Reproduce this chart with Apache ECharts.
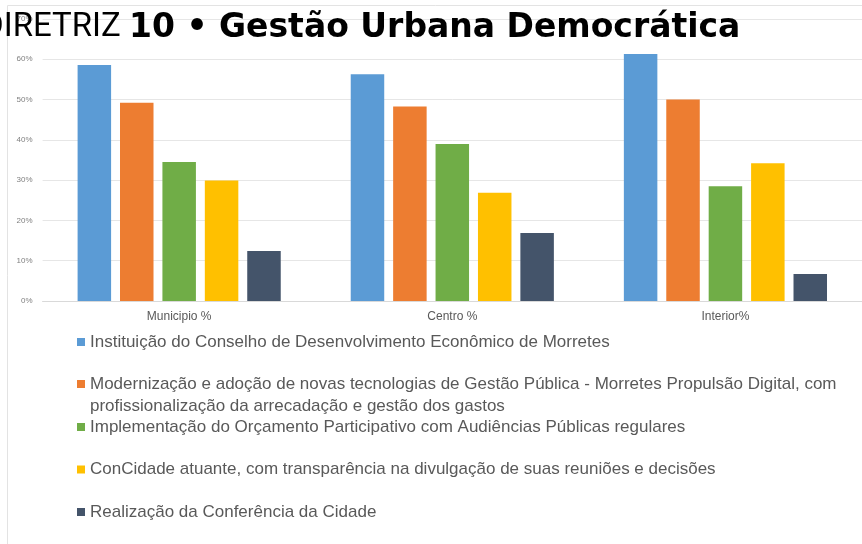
<!DOCTYPE html>
<html>
<head>
<meta charset="utf-8">
<script src="https://cdn.jsdelivr.net/npm/echarts@6/dist/echarts.min.js"></script>
<style>
  html, body { margin: 0; padding: 0; background: #fff; overflow: hidden; }
  #chart { width: 862px; height: 544px; }
</style>
</head>
<body>
<div id="chart"></div>
<script>
const categories = ['Municipio %', 'Centro %', 'Interior%'];
const seriesNames = [
  'Instituição do Conselho de Desenvolvimento Econômico de Morretes',
  'Modernização e adoção de novas tecnologias de Gestão Pública - Morretes Propulsão Digital, com profissionalização da arrecadação e gestão dos gastos',
  'Implementação do Orçamento Participativo com Audiências Públicas regulares',
  'ConCidade atuante, com transparência na divulgação de suas reuniões e decisões',
  'Realização da Conferência da Cidade'
];
const conselho = [58.6, 56.3, 61.3];
const modernizacao = [49.2, 48.3, 50.0];
const orcamento = [34.5, 39.0, 28.5];
const concidade = [29.9, 26.9, 34.2];
const conferencia = [12.4, 16.9, 6.7];
const colors = ['#5b9bd5', '#ed7d31', '#70ad47', '#ffc000', '#44546a'];

const values = [conselho, modernizacao, orcamento, concidade, conferencia];

const legendText = {
  fontFamily: 'Liberation Sans',
  fontSize: 17,
  lineHeight: 22,
  color: '#595959'
};

function legendBase(names, top) {
  return {
    data: names,
    orient: 'vertical',
    left: 77,
    top: top,
    padding: 0,
    itemGap: 20.5,
    itemWidth: 8,
    itemHeight: 8,
    icon: 'rect',
    selectedMode: false,
    textStyle: legendText
  };
}

const legendB = legendBase([seriesNames[1]], 351);
// keep the marker on the first line of the wrapped entry
legendB.formatter = function (name) {
  return '\u00a0\n' + name.replace('Digital, com ', 'Digital, com\n');
};

const chart = echarts.init(document.getElementById('chart'));
chart.setOption({
  color: colors,
  animation: false,
  title: {
    text: '{a|DIRETRIZ }{b|10 • Gestão Urbana Democrática}',
    left: -18,
    top: 8,
    padding: 0,
    textStyle: {
      rich: {
        a: { fontFamily: 'Roboto', fontWeight: 400, fontSize: 33, lineHeight: 40, color: '#000' },
        b: { fontFamily: 'DejaVu Sans', fontWeight: 'bold', fontSize: 33, lineHeight: 40, color: '#000' }
      }
    }
  },
  graphic: [{
    type: 'rect',
    shape: { x: 7.5, y: 5.5, width: 900, height: 600 },
    style: { fill: 'none', stroke: '#e3e3e3', lineWidth: 1 },
    z: -1
  }],
  legend: [
    legendBase([seriesNames[0]], 331),
    legendB,
    legendBase([seriesNames[2], seriesNames[3], seriesNames[4]], 416)
  ],
  grid: { left: 42.6, right: -6.9, top: 19, bottom: 243 },
  xAxis: {
    type: 'category',
    data: categories,
    axisTick: { show: false },
    axisLine: { lineStyle: { color: '#d9d9d9' } },
    axisLabel: { color: '#595959', fontSize: 12, margin: 10, fontFamily: 'Liberation Sans' }
  },
  yAxis: {
    type: 'value',
    min: 0,
    max: 70,
    interval: 10,
    axisLabel: { formatter: '{value}%', color: '#808080', fontSize: 8, margin: 10, fontFamily: 'Liberation Sans' },
    splitLine: { lineStyle: { color: '#e6e6e6' } }
  },
  series: seriesNames.map(function (name, i) {
    return {
      name: name,
      type: 'bar',
      barWidth: 33.5,
      barGap: '26.6%',
      data: values[i]
    };
  })
});
</script>
</body>
</html>
